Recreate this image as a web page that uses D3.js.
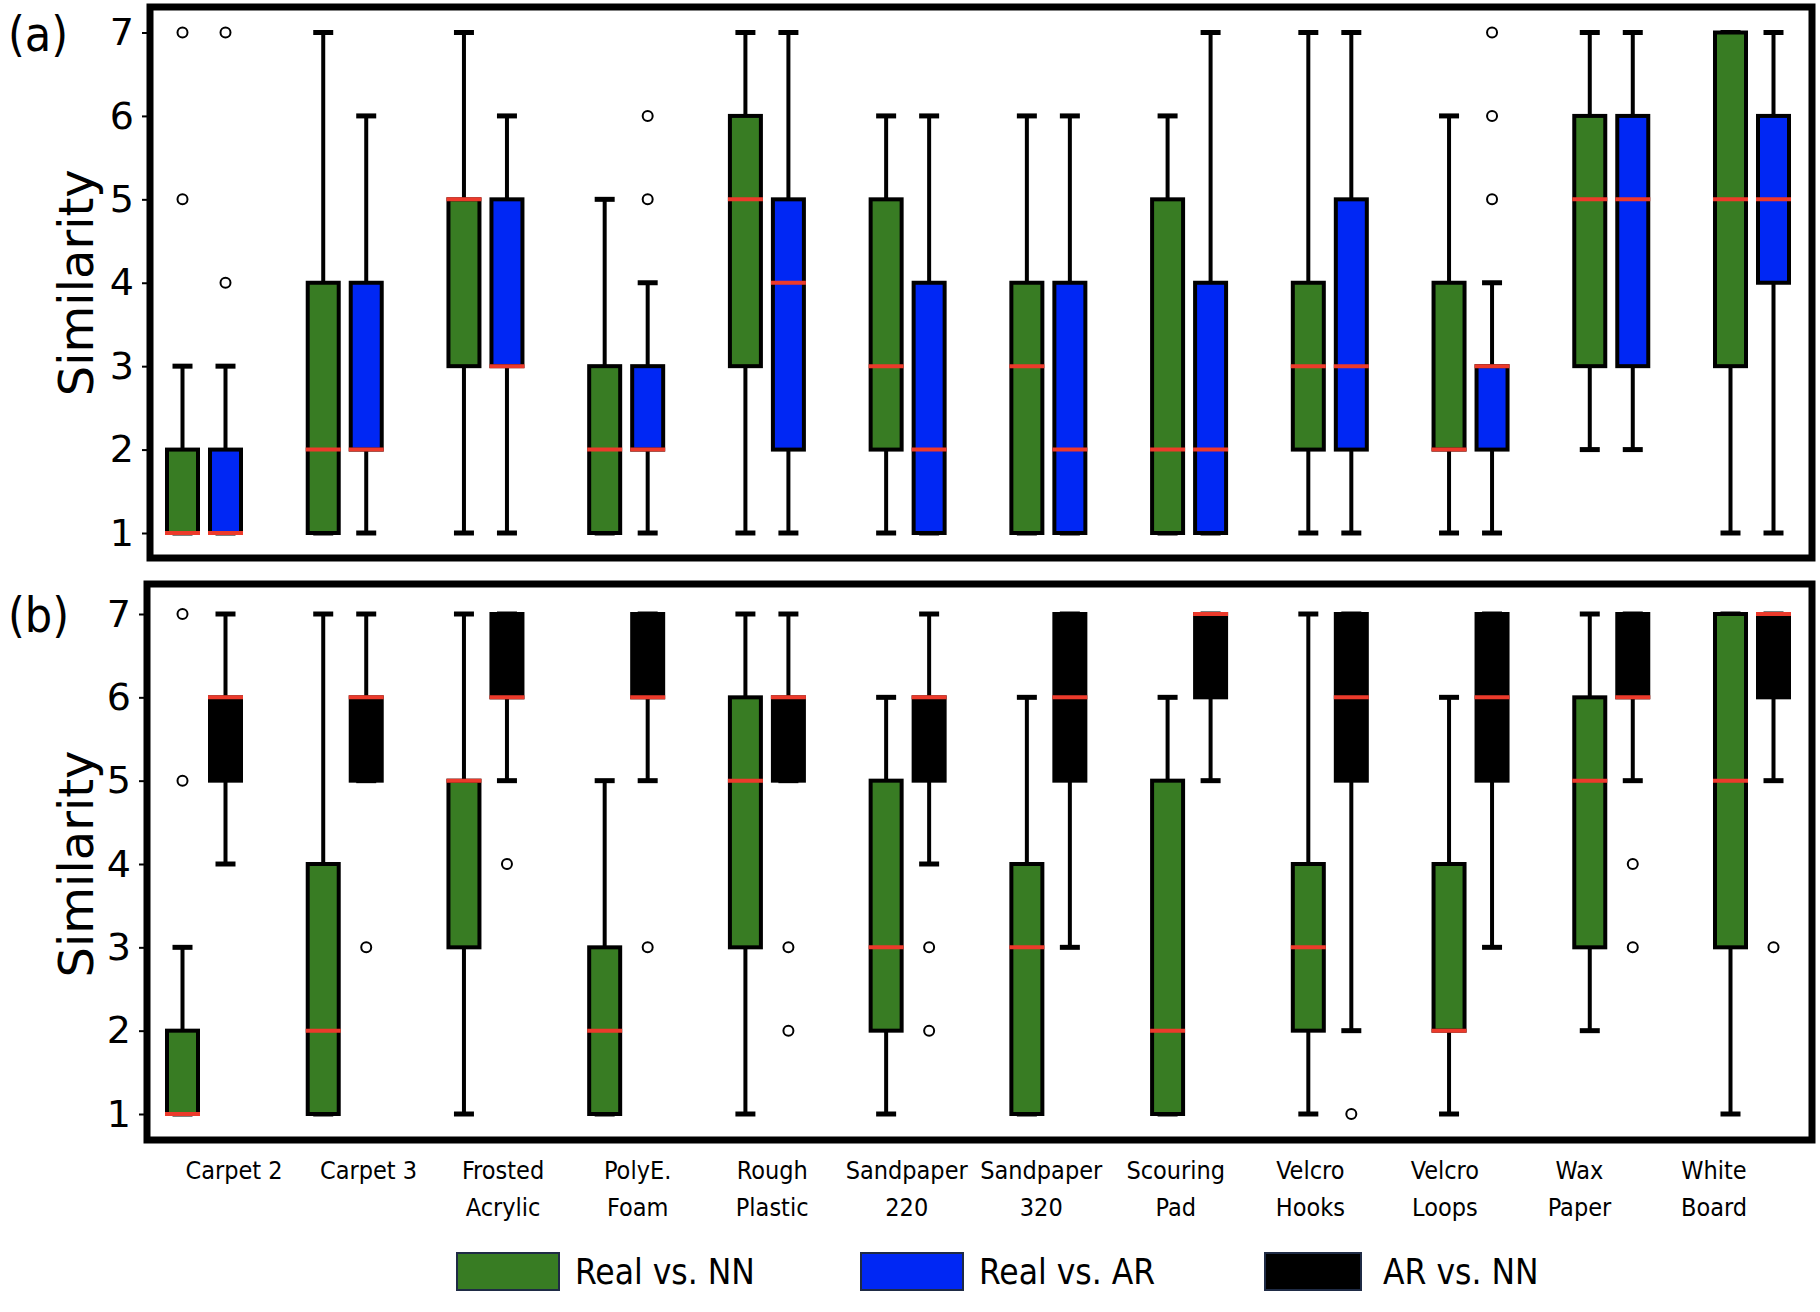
<!DOCTYPE html>
<meta charset="utf-8">
<style>

body {
  margin: 0;
  background: #fff;
}

.axis path {
  display: none;
}

.axis line {
  stroke: #000;
  stroke-width: 2;
}

.axis text {
  font-family: "DejaVu Sans", sans-serif;
  font-size: 38px;
  fill: #000;
}

.ylabel {
  font-family: "DejaVu Sans", sans-serif;
  font-size: 48px;
}

.panel-tag, .xlabel, .legend text {
  font-family: "Liberation Sans Narrow", "DejaVu Sans Condensed", sans-serif;
}

</style>
<svg id="chart"></svg>
<script src="https://d3js.org/d3.v7.min.js"></script>
<script>

// DATA  [whisker low, q1, median, q3, whisker high, outliers]

let materials = ["Carpet 2", "Carpet 3", "Frosted Acrylic", "PolyE. Foam", "Rough Plastic",
  "Sandpaper 220", "Sandpaper 320", "Scouring Pad", "Velcro Hooks", "Velcro Loops",
  "Wax Paper", "White Board"];

let realNN = [
  [1, 1, 1, 2, 3, [5, 7]],
  [1, 1, 2, 4, 7, []],
  [1, 3, 5, 5, 7, []],
  [1, 1, 2, 3, 5, []],
  [1, 3, 5, 6, 7, []],
  [1, 2, 3, 5, 6, []],
  [1, 1, 3, 4, 6, []],
  [1, 1, 2, 5, 6, []],
  [1, 2, 3, 4, 7, []],
  [1, 2, 2, 4, 6, []],
  [2, 3, 5, 6, 7, []],
  [1, 3, 5, 7, 7, []]
];

let realAR = [
  [1, 1, 1, 2, 3, [4, 7]],
  [1, 2, 2, 4, 6, []],
  [1, 3, 3, 5, 6, []],
  [1, 2, 2, 3, 4, [5, 6]],
  [1, 2, 4, 5, 7, []],
  [1, 1, 2, 4, 6, []],
  [1, 1, 2, 4, 6, []],
  [1, 1, 2, 4, 7, []],
  [1, 2, 3, 5, 7, []],
  [1, 2, 3, 3, 4, [5, 6, 7]],
  [2, 3, 5, 6, 7, []],
  [1, 4, 5, 6, 7, []]
];

let arNN = [
  [4, 5, 6, 6, 7, []],
  [5, 5, 6, 6, 7, [3]],
  [5, 6, 6, 7, 7, [4]],
  [5, 6, 6, 7, 7, [3]],
  [5, 5, 6, 6, 7, [3, 2]],
  [4, 5, 6, 6, 7, [3, 2]],
  [3, 5, 6, 7, 7, []],
  [5, 6, 7, 7, 7, []],
  [2, 5, 6, 7, 7, [1]],
  [3, 5, 6, 7, 7, []],
  [5, 6, 6, 7, 7, [4, 3]],
  [5, 6, 7, 7, 7, [3]]
];

let yTicks = [1, 2, 3, 4, 5, 6, 7];

let seriesNames = ["Real vs. NN", "Real vs. AR", "AR vs. NN"];
let seriesColors = ["#387c23", "#0027f4", "#000000"];

let medianColor = "#ec3a2b";

// SETUP

let svg = d3.select("#chart")
  .attr("width", 1820)
  .attr("height", 1312);

let x = d3.scalePoint()
  .domain(materials)
  .range([204, 1752]);

let xLabel = d3.scalePoint()
  .domain(materials)
  .range([234, 1714]);

let boxW = 31,
  capW = 20,
  shift = 21.5;

function drawPanel(top, bottom, frame, tag, series) {

  let y = d3.scaleLinear()
    .domain([1, 7])
    .range([bottom, top]);

  let g = svg.append("g");

  series.forEach(s => {
    let data = s.data.map((d, i) => ({name: materials[i], v: d}));
    let cx = d => x(d.name) + s.side * shift;

    let grp = g.selectAll(null)
      .data(data)
      .enter()
      .append("g");

    // whiskers
    grp.append("line")
      .attr("x1", cx).attr("x2", cx)
      .attr("y1", d => y(d.v[0])).attr("y2", d => y(d.v[1]))
      .attr("stroke", "#000").attr("stroke-width", 4);
    grp.append("line")
      .attr("x1", cx).attr("x2", cx)
      .attr("y1", d => y(d.v[3])).attr("y2", d => y(d.v[4]))
      .attr("stroke", "#000").attr("stroke-width", 4);

    // caps
    [0, 4].forEach(k => {
      grp.append("line")
        .attr("x1", d => cx(d) - capW / 2).attr("x2", d => cx(d) + capW / 2)
        .attr("y1", d => y(d.v[k])).attr("y2", d => y(d.v[k]))
        .attr("stroke", "#000").attr("stroke-width", 5);
    });

    // box
    grp.append("rect")
      .attr("x", d => cx(d) - boxW / 2)
      .attr("width", boxW)
      .attr("y", d => y(d.v[3]))
      .attr("height", d => y(d.v[1]) - y(d.v[3]))
      .attr("fill", s.color)
      .attr("stroke", "#000")
      .attr("stroke-width", 4);

    // median
    grp.append("line")
      .attr("x1", d => cx(d) - boxW / 2 - 2).attr("x2", d => cx(d) + boxW / 2 + 2)
      .attr("y1", d => y(d.v[2])).attr("y2", d => y(d.v[2]))
      .attr("stroke", medianColor).attr("stroke-width", 4);

    // outliers
    grp.selectAll("circle")
      .data(d => d.v[5].map(o => ({name: d.name, o: o})))
      .enter()
      .append("circle")
      .attr("cx", cx)
      .attr("cy", d => y(d.o))
      .attr("r", 5)
      .attr("fill", "#fff")
      .attr("stroke", "#000")
      .attr("stroke-width", 2);
  });

  // frame
  svg.append("rect")
    .attr("x", frame[0]).attr("y", frame[1])
    .attr("width", frame[2] - frame[0]).attr("height", frame[3] - frame[1])
    .attr("fill", "none")
    .attr("stroke", "#000")
    .attr("stroke-width", 7);

  svg.append("g")
    .attr("class", "axis")
    .attr("transform", "translate(" + (frame[0] - 3) + ",0)")
    .call(d3.axisLeft(y).tickValues(yTicks).tickFormat(d3.format("d")).tickSize(5).tickPadding(8));

  svg.append("text")
    .attr("class", "ylabel")
    .attr("transform", "translate(93," + (top + bottom) / 2 + ") rotate(-90)")
    .attr("text-anchor", "middle")
    .text("Similarity");

  svg.append("text")
    .attr("class", "panel-tag")
    .attr("x", 8)
    .attr("y", top + 18)
    .attr("font-size", 48)
    .text(tag);
}

drawPanel(32.5, 533, [150, 7, 1812, 558], "(a)", [
  {data: realNN, color: seriesColors[0], side: -1},
  {data: realAR, color: seriesColors[1], side: 1}
]);

drawPanel(614, 1114, [147, 584, 1812, 1140], "(b)", [
  {data: realNN, color: seriesColors[0], side: -1},
  {data: arNN, color: seriesColors[2], side: 1}
]);

// X LABELS

let xl = svg.append("g")
  .selectAll("text")
  .data(materials)
  .enter()
  .append("text")
  .attr("class", "xlabel")
  .attr("font-size", 25)
  .attr("text-anchor", "middle")
  .attr("x", d => xLabel(d));

xl.each(function(d) {
  let words = d.split(" ");
  let lines = words.length > 1 && !/^Carpet/.test(d) ? [words[0], words.slice(1).join(" ")] : [d];
  let t = d3.select(this);
  lines.forEach((w, i) => {
    t.append("tspan")
      .attr("x", xLabel(d))
      .attr("y", 1179 + i * 37)
      .text(w);
  });
});

// LEGEND

let legendX = d3.scalePoint()
  .domain(seriesNames)
  .range([457, 1265]);

let lg = svg.append("g")
  .attr("class", "legend")
  .selectAll("g")
  .data(seriesNames)
  .enter()
  .append("g")
  .attr("transform", d => "translate(" + legendX(d) + ",1253)");

lg.append("rect")
  .attr("width", (d, i) => i == 2 ? 96 : 102)
  .attr("height", 37)
  .attr("fill", (d, i) => seriesColors[i])
  .attr("stroke", "#1f2b45")
  .attr("stroke-width", 2);

lg.append("text")
  .attr("x", 118)
  .attr("y", 31)
  .attr("font-size", 35)
  .text(d => d);

</script>
